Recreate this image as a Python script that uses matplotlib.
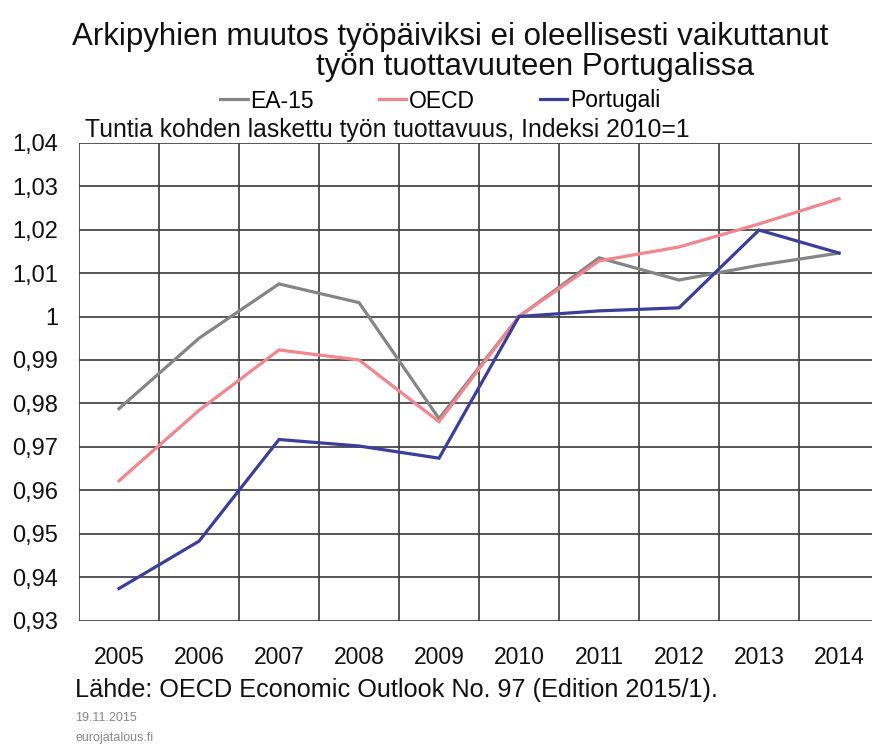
import matplotlib
matplotlib.use("Agg")
import matplotlib.pyplot as plt
from matplotlib.ticker import FixedLocator, FuncFormatter

plt.rcParams['font.family'] = ['Liberation Sans', 'DejaVu Sans']

years = [2005, 2006, 2007, 2008, 2009, 2010, 2011, 2012, 2013, 2014]
ea15 = [0.9788, 0.9950, 1.0075, 1.0032, 0.9765, 1.0000, 1.0135, 1.0084, 1.0118, 1.0146]
oecd = [0.9622, 0.9784, 0.9923, 0.9900, 0.9758, 1.0000, 1.0128, 1.0160, 1.0213, 1.0271]
portugal = [0.9374, 0.9483, 0.9717, 0.9702, 0.9674, 1.0000, 1.0013, 1.0020, 1.0199, 1.0146]
series_names = ["EA-15", "OECD", "Portugali"]
colors = ["#858585", "#f2868c", "#3d3d9c"]

fig = plt.figure(figsize=(8.72, 7.47), dpi=100)
ax = fig.add_axes([79/872, 1 - 620.7/747, 800/872, (620.7 - 142.7)/747])

x = list(range(len(years)))
for vals, name, c in zip([ea15, oecd, portugal], series_names, colors):
    ax.plot(x, vals, color=c, lw=2.3, label=name, solid_joinstyle='miter', zorder=3)

ax.set_xlim(-0.5, len(years) - 0.5)
ax.set_ylim(0.93, 1.04)
yt = [0.93 + 0.01 * i for i in range(12)]
ax.yaxis.set_major_locator(FixedLocator(yt))
def fmt(v, pos):
    s = f"{v:.2f}".rstrip('0').rstrip('.')
    return s.replace('.', ',')
ax.yaxis.set_major_formatter(FuncFormatter(fmt))
ax.set_xticks(x)
ax.set_xticklabels([str(y) for y in years])
ax.grid(False)
for v in yt:
    ax.axhline(v, color="#3a3a3a", lw=1.2, zorder=1)
for i in range(len(years)):
    ax.axvline(i - 0.5, color="#3a3a3a", lw=1.2, zorder=1)
for s in ax.spines.values():
    s.set_visible(False)
ax.tick_params(axis='both', length=0, colors="#111111")
ax.tick_params(axis='y', pad=15, labelsize=17)
ax.tick_params(axis='x', pad=18, labelsize=16.5)

fig.text(450/872, 1 - 37/747, "Arkipyhien muutos työpäiviksi ei oleellisesti vaikuttanut",
         ha='center', va='center', fontsize=22.5, color="#111111")
fig.text(535/872, 1 - 67/747, "työn tuottavuuteen Portugalissa",
         ha='center', va='center', fontsize=22.5, color="#111111")
fig.text(85/872, 1 - 130/747, "Tuntia kohden laskettu työn tuottavuus, Indeksi 2010=1",
         ha='left', va='center', fontsize=17.8, color="#111111")

leg = fig.legend(loc='center', bbox_to_anchor=(440/872, 1 - 101/747), ncol=3, frameon=False,
                 fontsize=16.5, handlelength=1.2, handletextpad=0.1, columnspacing=2.85)

fig.text(75/872, 1 - 690/747, "Lähde: OECD Economic Outlook No. 97 (Edition 2015/1).",
         ha='left', va='center', fontsize=18.2, color="#111111")
fig.text(75/872, 1 - 718/747, "19.11.2015", ha='left', va='center', fontsize=9, color="#888888")
fig.text(75/872, 1 - 738/747, "eurojatalous.fi", ha='left', va='center', fontsize=9, color="#888888")

fig.savefig("out.png", dpi=100)
